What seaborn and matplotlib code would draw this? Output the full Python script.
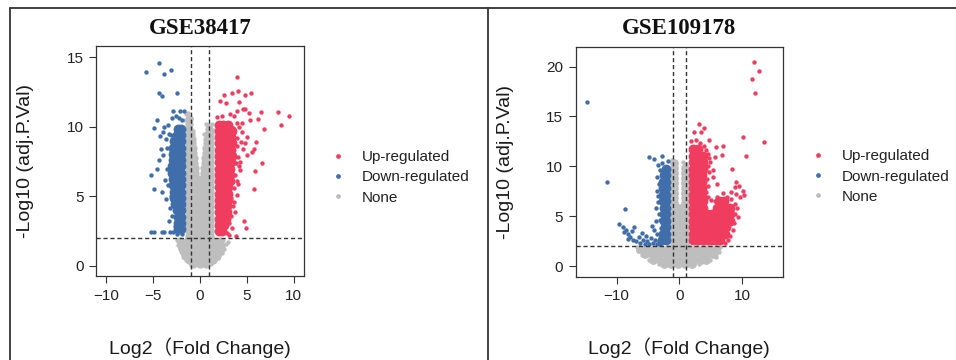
import pandas as pd
import seaborn as sns
import matplotlib.pyplot as plt
from matplotlib.lines import Line2D

# ---------------- data ----------------
groups = ['Up-regulated', 'Down-regulated', 'None']
colors = {'Up-regulated': '#F03C5F', 'Down-regulated': '#3F6EAA', 'None': '#BEBEBE'}

# dense parts of each cloud: (neglogP, [logFC, ...]) rows
# scattered points: (logFC, neglogP)

# ---- GSE38417 ----
gse38417_up_core = [
    (10.15, [2.0, 2.5, 3.0]), (9.7, [2.0, 2.5, 3.0, 3.4]), (9.25, [2.0, 2.5, 3.0, 3.3]),
    (8.8, [2.0, 2.5, 3.0, 3.45]), (8.35, [2.0, 2.5, 3.0, 3.35]), (7.9, [2.0, 2.5, 3.0, 3.4]),
    (7.45, [2.0, 2.5, 3.0, 3.3]), (7.0, [2.0, 2.5, 3.0, 3.25]), (6.55, [2.0, 2.5, 3.0, 3.2]),
    (6.1, [2.0, 2.5, 3.0, 3.15]), (5.65, [2.0, 2.5, 3.0]), (5.2, [2.0, 2.5, 3.0]),
    (4.75, [2.0, 2.5, 2.95]), (4.3, [2.0, 2.5, 2.9]), (3.85, [2.0, 2.45, 2.85]),
    (3.4, [2.0, 2.4, 2.75]), (2.95, [2.0, 2.35, 2.6]), (2.5, [2.0, 2.3]),
]
gse38417_up_edge = [
    (3.97, 13.55), (2.59, 12.3), (3.44, 12.4), (4.07, 12.56), (4.79, 12.3), (5.43, 12.4),
    (2.13, 11.85), (2.73, 11.7), (4.15, 11.8), (4.61, 11.3), (3.9, 11.15), (6.56, 11.08),
    (8.33, 11.08), (9.5, 10.77), (8.69, 10.12), (6.2, 10.53), (5.32, 10.48), (5.25, 10.96),
    (4.79, 11.25), (6.84, 9.87), (5.93, 8.93), (5.78, 8.38), (5.5, 8.2), (6.63, 7.42),
    (5.85, 6.84), (5.74, 5.5), (4.72, 3.23), (4.89, 2.7), (3.8, 2.15), (4.97, 7.97),
    (4.18, 7.18), (3.97, 6.12), (3.65, 4.62), (3.48, 4.3),
    (3.6, 10.8), (3.2, 10.9), (2.4, 10.75), (1.8, 10.7), (3.9, 10.3), (4.2, 10.0),
    (4.5, 9.6), (4.0, 9.2), (4.4, 8.9), (3.95, 8.6), (4.6, 8.4), (4.1, 7.8), (3.8, 7.4),
    (4.3, 6.9), (3.7, 6.5), (4.1, 5.9), (3.6, 5.6), (3.9, 5.1), (3.3, 4.9), (3.7, 3.9),
    (3.3, 3.6), (3.1, 3.1), (3.4, 2.7), (2.9, 2.4), (3.1, 2.2), (4.5, 10.3), (5.0, 9.3),
    (4.8, 8.8), (4.3, 7.5), (3.5, 9.9),
]
gse38417_down_core = [
    (9.85, [-2.05, -2.4]), (9.4, [-2.05, -2.5]), (8.95, [-2.05, -2.55, -2.8]),
    (8.5, [-2.05, -2.55, -2.85]), (8.05, [-2.05, -2.55, -2.9]), (7.6, [-2.05, -2.55, -2.9]),
    (7.15, [-2.05, -2.55, -2.95]), (6.7, [-2.05, -2.55, -2.95]), (6.25, [-2.05, -2.55, -2.9]),
    (5.8, [-2.05, -2.55, -2.85]), (5.35, [-2.05, -2.55, -2.8]), (4.9, [-2.05, -2.5, -2.75]),
    (4.45, [-2.05, -2.5, -2.7]), (4.0, [-2.05, -2.45]), (3.55, [-2.05, -2.4]),
    (3.1, [-2.05, -2.4]), (2.65, [-2.05, -2.3]),
]
gse38417_down_edge = [
    (-5.74, 13.95), (-4.36, 14.6), (-3.86, 13.8), (-3.05, 14.1), (-4.33, 12.4), (-4.08, 12.2),
    (-2.48, 12.4), (-2.84, 11.1), (-2.13, 11.1), (-1.67, 11.1), (-4.54, 10.5), (-4.96, 9.9),
    (-4.26, 9.33), (-3.83, 9.96), (-5.24, 2.44), (-4.9, 2.44), (-4.08, 2.44), (-3.8, 2.44),
    (-3.19, 2.44), (-2.84, 2.44),
    (-5.2, 6.5), (-4.9, 5.5), (-4.4, 7.6), (-4.2, 8.4), (-3.9, 8.0), (-3.6, 9.1),
    (-3.4, 10.1), (-3.0, 10.6), (-2.6, 10.8), (-2.2, 10.6), (-1.9, 10.5), (-3.5, 7.0),
    (-3.7, 6.2), (-3.4, 5.8), (-3.6, 4.8), (-3.2, 4.2), (-3.0, 3.6), (-3.3, 3.2),
    (-2.7, 2.9), (-2.5, 2.3), (-3.5, 8.5), (-3.3, 9.5), (-4.6, 7.0), (-4.1, 5.3),
    (-3.1, 5.0), (-1.9, 2.3), (-3.9, 9.6), (-3.1, 9.4),
]
gse38417_none_core = [
    (10.55, [-1.2]), (10.2, [-1.15]), (9.85, [-1.15, 0.95]),
    (9.5, [-1.15, -0.95, 0.85, 1.1]), (9.15, [-1.15, -0.85, 0.75, 1.1]),
    (8.8, [-1.15, -0.8, 0.7, 1.1]), (8.45, [-1.15, -0.75, 0.65, 1.1]),
    (8.1, [-1.15, -0.7, 0.6, 1.1]), (7.75, [-1.15, -0.65, 0.55, 1.1]),
    (7.4, [-1.15, -0.6, 0.5, 1.1]), (7.05, [-1.15, -0.55, 0.45, 1.1]),
    (6.7, [-1.15, -0.5, 0.4, 1.1]), (6.35, [-1.15, -0.4, 0.35, 1.1]),
    (6.0, [-1.15, -0.4, 0.0, 0.35, 1.1]), (5.65, [-1.15, -0.4, 0.35, 1.1]),
    (5.3, [-1.15, -0.4, 0.35, 1.1]), (4.95, [-1.15, -0.4, 0.35, 1.1]),
    (4.6, [-1.15, -0.4, 0.35, 1.1]), (4.25, [-1.15, -0.4, 0.35, 1.1]),
    (3.9, [-1.15, -0.4, 0.35, 1.1]), (3.55, [-1.15, -0.4, 0.35, 1.1]),
    (3.2, [-1.15, -0.4, 0.35, 1.1]), (2.85, [-1.15, -0.4, 0.35, 1.1]),
    (2.5, [-1.15, -0.4, 0.35, 1.1]), (2.15, [-1.15, -0.4, 0.35, 1.1]),
    (1.8, [-2.1, -1.4, -0.7, 0.0, 0.7, 1.4, 2.1]),
    (1.45, [-2.0, -1.3, -0.6, 0.1, 0.8, 1.5, 2.2]),
    (1.1, [-1.85, -1.15, -0.45, 0.25, 0.95, 1.65, 2.1]),
    (0.75, [-1.6, -0.9, -0.2, 0.5, 1.2, 1.8]),
    (0.4, [-1.2, -0.5, 0.2, 0.9, 1.4]),
    (0.15, [-0.7, 0.0, 0.6]),
]
gse38417_none_edge = [
    (2.5, 1.9), (2.8, 1.55), (2.6, 1.2), (2.3, 0.9), (1.95, 0.55), (-2.45, 1.9),
    (-2.35, 1.5), (-2.1, 1.2), (-1.8, 0.85), (-1.45, 0.45), (-1.5, 10.9), (-1.3, 11.0),
    (-0.95, 10.6), (0.65, 10.2), (0.85, 10.1), (1.3, 10.2), (1.4, 9.8), (-0.75, 9.7),
    (0.45, 9.5), (1.2, 0.15), (-1.0, 0.1), (3.0, 1.7), (-1.6, 10.5),
]

# ---- GSE109178 ----
gse109178_up_core = [
    (11.7, [2.2, 2.9]), (11.05, [2.2, 2.95, 3.7]), (10.4, [2.2, 2.95, 3.7]),
    (9.75, [2.2, 2.95, 3.7]), (9.1, [2.2, 2.95, 3.65]), (8.45, [2.2, 2.95, 3.6]),
    (7.8, [2.2, 2.95, 3.6]), (7.15, [2.2, 2.95, 3.6]), (6.5, [2.2, 2.95, 3.7, 6.3, 7.1]),
    (5.85, [2.2, 2.95, 3.7, 6.0, 6.7, 7.4, 8.0]),
    (5.2, [2.2, 2.95, 3.7, 4.45, 5.2, 5.95, 6.7, 7.45, 8.1]),
    (4.55, [2.2, 2.95, 3.7, 4.45, 5.2, 5.95, 6.7, 7.45, 8.0]),
    (3.9, [2.2, 2.95, 3.7, 4.45, 5.2, 5.95, 6.7, 7.4]),
    (3.25, [2.2, 2.95, 3.7, 4.45, 5.2, 5.95, 6.65, 7.2]),
    (2.6, [2.2, 2.95, 3.7, 4.45, 5.2, 5.85, 6.4]),
]
gse109178_up_edge = [
    (11.85, 20.5), (12.74, 19.6), (11.53, 18.76), (12.0, 17.4), (13.5, 12.47), (10.1, 12.9),
    (10.57, 11.06), (3.19, 14.2), (3.88, 13.8), (2.39, 13.47), (3.46, 13.47), (4.78, 12.64),
    (5.84, 11.9), (6.91, 12.04), (6.8, 11.13), (5.73, 10.96), (8.39, 9.7), (5.95, 8.19),
    (9.03, 8.46), (9.55, 8.02), (8.82, 7.89), (10.09, 7.55), (10.35, 7.12), (4.94, 10.46),
    (5.31, 9.63), (5.41, 8.96),
    (1.8, 12.5), (2.6, 12.6), (3.3, 12.3), (3.9, 12.0), (4.3, 11.6), (4.6, 11.2),
    (4.8, 10.8), (4.5, 10.0), (4.7, 9.4), (4.4, 8.7), (4.6, 8.0), (4.3, 7.4), (4.5, 6.9),
    (5.0, 6.6), (5.6, 6.5), (6.0, 6.9), (7.6, 6.9), (8.3, 6.7), (8.8, 6.2), (9.2, 5.8),
    (8.9, 5.2), (9.3, 4.9), (8.7, 4.3), (8.6, 3.6), (8.1, 3.0), (7.7, 2.6), (7.2, 2.3),
    (9.6, 6.9), (9.0, 7.2), (8.2, 7.4), (7.0, 7.3),
]
gse109178_down_core = [
    (9.75, [-2.1]), (9.1, [-2.15, -2.5]), (8.45, [-2.15, -2.55]), (7.8, [-2.15, -2.55]),
    (7.15, [-2.15, -2.6]), (6.5, [-2.15, -2.55]), (5.85, [-2.15, -2.5]), (5.2, [-2.15, -2.5]),
    (4.55, [-2.15, -2.4]), (3.9, [-2.15, -2.35]), (3.25, [-2.15, -2.6]), (2.6, [-2.15, -2.8]),
]
gse109178_down_edge = [
    (-14.7, 16.5), (-11.5, 8.4), (-8.65, 5.69), (-9.55, 4.2), (-4.78, 10.9), (-3.98, 10.7),
    (-2.75, 11.06), (-3.44, 10.13), (-7.17, 3.94), (-3.71, 4.54), (-8.49, 3.61),
    (-9.0, 3.9), (-8.8, 3.4), (-8.1, 3.2), (-7.8, 2.9), (-7.4, 2.6), (-6.9, 2.5),
    (-6.5, 2.9), (-6.2, 2.3), (-5.8, 2.6), (-5.5, 2.2), (-5.1, 2.5), (-4.8, 2.2),
    (-4.5, 2.8), (-4.2, 2.3), (-3.9, 2.6), (-3.6, 2.2), (-3.3, 2.5), (-3.0, 2.2),
    (-6.0, 3.3), (-5.3, 3.0), (-4.0, 3.6), (-3.5, 3.2), (-4.4, 4.0), (-3.3, 5.2),
    (-3.4, 6.4), (-3.6, 7.5), (-3.2, 8.2), (-3.5, 8.9), (-3.1, 9.6), (-2.7, 10.3),
    (-1.8, 10.5), (-3.4, 7.0), (-7.5, 3.5), (-8.2, 2.7), (-2.9, 3.8), (-3.0, 4.6),
    (-3.7, 5.8),
]
gse109178_none_core = [
    (10.3, [-0.85]), (9.8, [-0.85, 0.9]), (9.3, [-0.85, 0.9]), (8.8, [-0.85, 0.9]),
    (8.3, [-0.85, 0.9]), (7.8, [-0.85, 0.9]), (7.3, [-0.85, 0.9]), (6.8, [-0.85, 0.9]),
    (6.3, [-0.85, 0.9]), (5.8, [-0.85, 0.0, 0.9]), (5.3, [-0.85, 0.0, 0.9]),
    (4.8, [-0.85, 0.0, 0.9]), (4.3, [-0.85, 0.0, 0.9]), (3.8, [-0.85, 0.0, 0.9]),
    (3.3, [-0.85, 0.0, 0.9]), (2.8, [-0.85, 0.0, 0.9]), (2.3, [-0.85, 0.0, 0.9]),
    (1.75, [-6.2, -5.1, -4.0, -2.9, -1.8, -0.7, 0.4, 1.5, 2.6, 3.7, 4.8, 5.9]),
    (1.2, [-5.4, -4.3, -3.2, -2.1, -1.0, 0.1, 1.2, 2.3, 3.4, 4.5, 5.4]),
    (0.65, [-4.2, -3.1, -2.0, -0.9, 0.2, 1.3, 2.4, 3.5, 4.3]),
    (0.2, [-2.4, -1.3, -0.2, 0.9, 2.0]),
]
gse109178_none_edge = [
    (-6.8, 1.9), (-6.6, 1.5), (6.5, 1.9), (6.3, 1.4), (5.84, 0.87), (-5.9, 1.1),
    (5.8, 1.2), (-4.9, 0.6), (4.9, 0.6), (-3.3, 0.2), (3.1, 0.2), (-1.2, 10.6),
    (0.6, 10.4), (1.1, 10.2),
]


def to_frame(parts):
    rows = []
    for group, core, edge in parts:
        for y, xs in core:
            rows += [(x, y, group, 'core') for x in xs]
        rows += [(x, y, group, 'edge') for x, y in edge]
    return pd.DataFrame(rows, columns=['logFC', 'neglogP', 'group', 'layer'])


df_38417 = to_frame([
    ('None', gse38417_none_core, gse38417_none_edge),
    ('Down-regulated', gse38417_down_core, gse38417_down_edge),
    ('Up-regulated', gse38417_up_core, gse38417_up_edge),
])
df_109178 = to_frame([
    ('None', gse109178_none_core, gse109178_none_edge),
    ('Down-regulated', gse109178_down_core, gse109178_down_edge),
    ('Up-regulated', gse109178_up_core, gse109178_up_edge),
])

# ---------------- style ----------------
sns.set_style('white')
plt.rcParams['font.family'] = ['Liberation Sans', 'Noto Sans CJK SC']

fig = plt.figure(figsize=(9.56, 3.6), dpi=100)


def volcano(ax, df, title, xticks, yticks, xlim, ylim, core_size):
    for g in ['None', 'Down-regulated', 'Up-regulated']:
        for layer in ['core', 'edge']:
            sub = df[(df['group'] == g) & (df['layer'] == layer)]
            s = core_size[g] if layer == 'core' else 10
            sns.scatterplot(data=sub, x='logFC', y='neglogP', color=colors[g], s=s,
                            linewidth=0, legend=False, ax=ax)
    for v in (-1, 1):
        ax.axvline(v, color='#333333', lw=1.0, ls=(0, (3, 2)))
    ax.axhline(2, color='#333333', lw=1.0, ls=(0, (3, 2)))

    ax.set_xlim(*xlim)
    ax.set_ylim(*ylim)
    ax.set_xticks(xticks)
    ax.set_yticks(yticks)
    ax.tick_params(direction='out', length=5, width=0.8, color='#333333',
                   labelsize=11, labelcolor='#222222', pad=4,
                   bottom=True, left=True)
    for sp in ax.spines.values():
        sp.set_visible(True)
        sp.set_color('#333333')
        sp.set_linewidth(0.9)

    ax.set_title(title, fontfamily=['Liberation Serif'], fontweight='bold',
                 fontsize=16.5, pad=9, color='#111111')
    ax.set_xlabel('Log2（Fold Change)', fontsize=14, color='#1a1a1a')
    ax.set_ylabel('-Log10 (adj.P.Val)', fontsize=14, color='#1a1a1a')
    ax.xaxis.set_label_coords(0.5, -0.265)
    ax.yaxis.set_label_coords(-0.30, 0.5)


ax1 = fig.add_axes([0.1004, 0.2333, 0.2176, 0.6389])
volcano(ax1, df_38417, 'GSE38417', [-10, -5, 0, 5, 10], [0, 5, 10, 15],
        (-11.1, 11.1), (-0.72, 15.8),
        {'None': 36, 'Down-regulated': 50, 'Up-regulated': 50})

ax2 = fig.add_axes([0.6022, 0.2314, 0.2168, 0.6389])
volcano(ax2, df_109178, 'GSE109178', [-10, 0, 10], [0, 5, 10, 15, 20],
        (-16.5, 16.5), (-1.07, 22.0),
        {'None': 40, 'Down-regulated': 50, 'Up-regulated': 50})

# legends
handles = [Line2D([], [], marker='o', ls='', color=colors[g], markersize=2.4) for g in groups]
for x0, y0 in [(0.3456, 0.507), (0.8477, 0.5097)]:
    fig.legend(handles, groups, loc='center left', bbox_to_anchor=(x0, y0),
               frameon=False, fontsize=11, handlelength=1.0, handletextpad=1.05,
               borderpad=0, borderaxespad=0, labelspacing=0.4, labelcolor='#222222')

# panel frame lines
for xs, ys in [([0.0105, 0.0105], [0, 0.978]), ([0.0105, 1.0], [0.978, 0.978]),
               ([0.5105, 0.5105], [0, 0.978])]:
    fig.add_artist(Line2D(xs, ys, transform=fig.transFigure, color='#333333', lw=1.3))

fig.savefig('out.png', dpi=100)
